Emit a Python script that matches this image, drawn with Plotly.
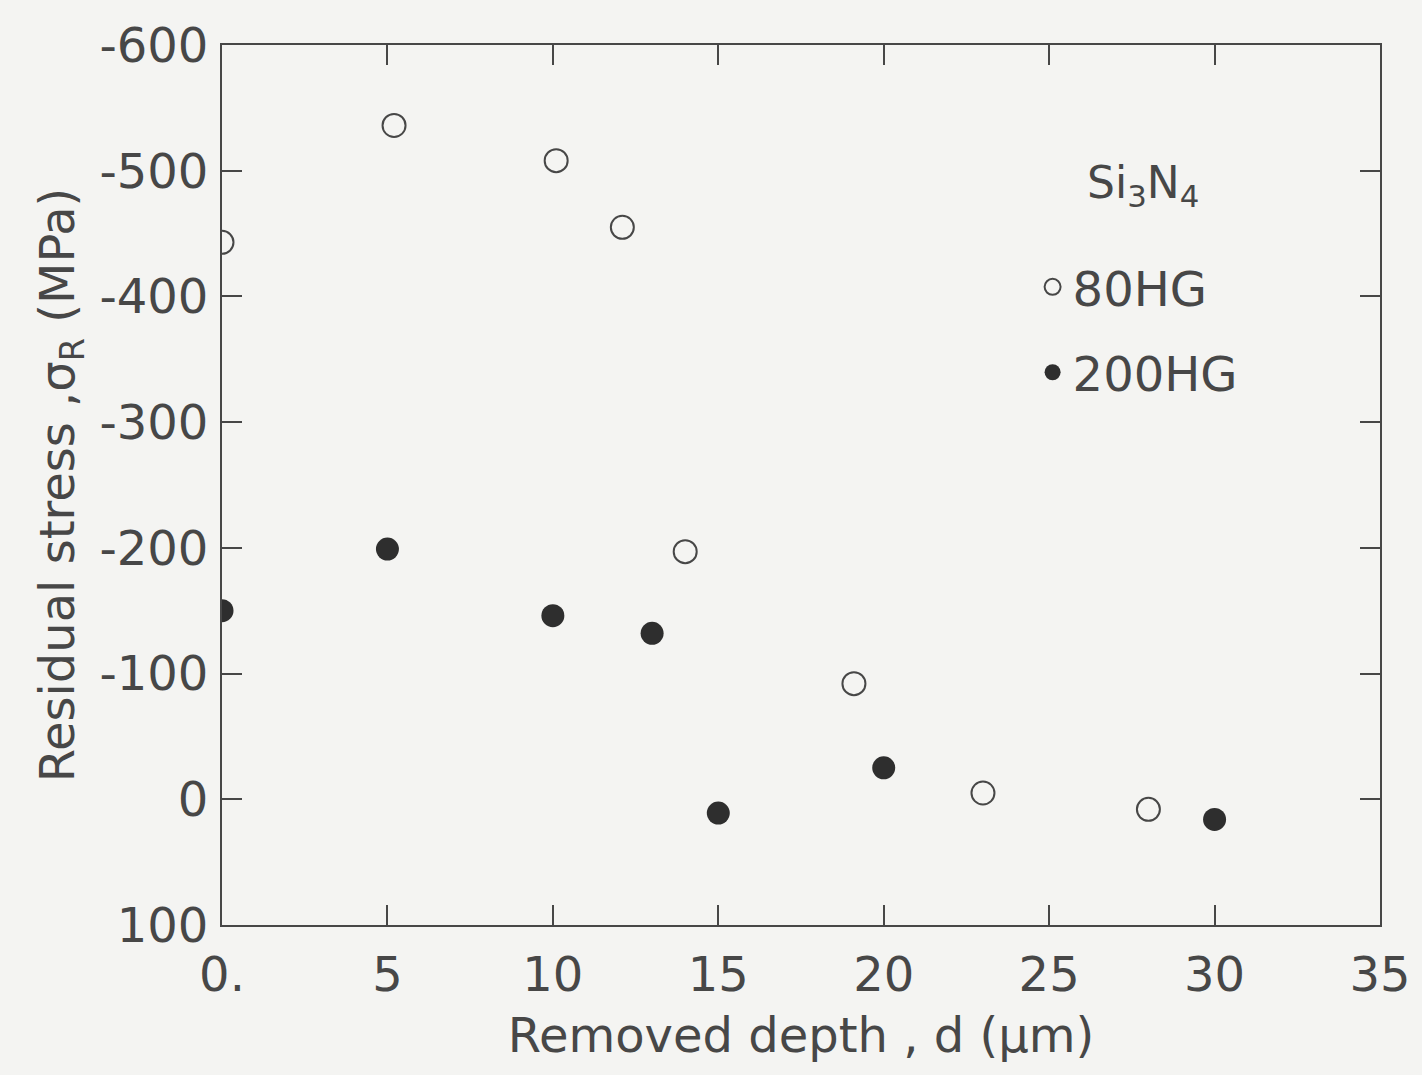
import plotly.graph_objects as go

# Data
hg80_depth = [0, 5.2, 10.1, 12.1, 14.0, 19.1, 23.0, 28.0]
hg80_stress = [-443, -536, -508, -455, -197, -92, -5, 8]
hg200_depth = [0, 5, 10, 13, 15, 20, 30]
hg200_stress = [-150, -199, -146, -132, 11, -25, 16]

x_ticks = [0, 5, 10, 15, 20, 25, 30, 35]
x_ticktext = ["0.", "5", "10", "15", "20", "25", "30", "35"]
y_ticks = [-600, -500, -400, -300, -200, -100, 0, 100]
y_ticktext = ["-600", "-500", "-400", "-300", "-200", "-100", "0", "100"]

ink = "#474747"
bg = "#f4f4f2"
fnt = "DejaVu Sans"

fig = go.Figure()
fig.add_trace(go.Scatter(
    x=hg80_depth, y=hg80_stress, mode="markers", name="80HG",
    legendgroup="a",
    marker=dict(symbol="circle-open", size=23, color=ink, line=dict(width=2, color=ink)),
))
fig.add_trace(go.Scatter(
    x=hg200_depth, y=hg200_stress, mode="markers", name="200HG",
    legendgroup="b",
    marker=dict(symbol="circle", size=23, color="#2e2e2e"),
))

axis_common = dict(
    showline=True, linecolor=ink, linewidth=2, mirror="allticks",
    ticks="inside", ticklen=20, tickwidth=2, tickcolor=ink,
    showgrid=False, zeroline=False,
    tickfont=dict(family=fnt, size=48, color=ink),
)

fig.update_xaxes(
    range=[0, 35], tickmode="array", tickvals=x_ticks, ticktext=x_ticktext,
    title=dict(text="Removed depth , d (μm)", font=dict(family=fnt, size=48, color=ink), standoff=18),
    ticklabelstandoff=6,
    **axis_common,
)
fig.update_yaxes(
    range=[100, -600], tickmode="array", tickvals=y_ticks, ticktext=y_ticktext,
    title=dict(text="Residual stress ,σ<sub>R</sub> (MPa)", font=dict(family=fnt, size=48, color=ink), standoff=10),
    ticklabelstandoff=2,
    **axis_common,
)

fig.add_annotation(
    x=0.745, y=0.875, xref="paper", yref="paper", xanchor="left", yanchor="top",
    text="Si<sub>3</sub>N<sub>4</sub>", showarrow=False,
    font=dict(family=fnt, size=44, color=ink),
)

fig.update_layout(
    width=1422, height=1075,
    margin=dict(l=222, r=42, t=45, b=150),
    paper_bgcolor=bg, plot_bgcolor=bg,
    showlegend=True,
    legend=dict(
        x=0.7, y=0.768, xanchor="left", yanchor="top",
        bgcolor="rgba(0,0,0,0)", font=dict(family=fnt, size=48, color=ink),
        tracegroupgap=20, itemwidth=30,
    ),
)

fig.write_html("out.html")
